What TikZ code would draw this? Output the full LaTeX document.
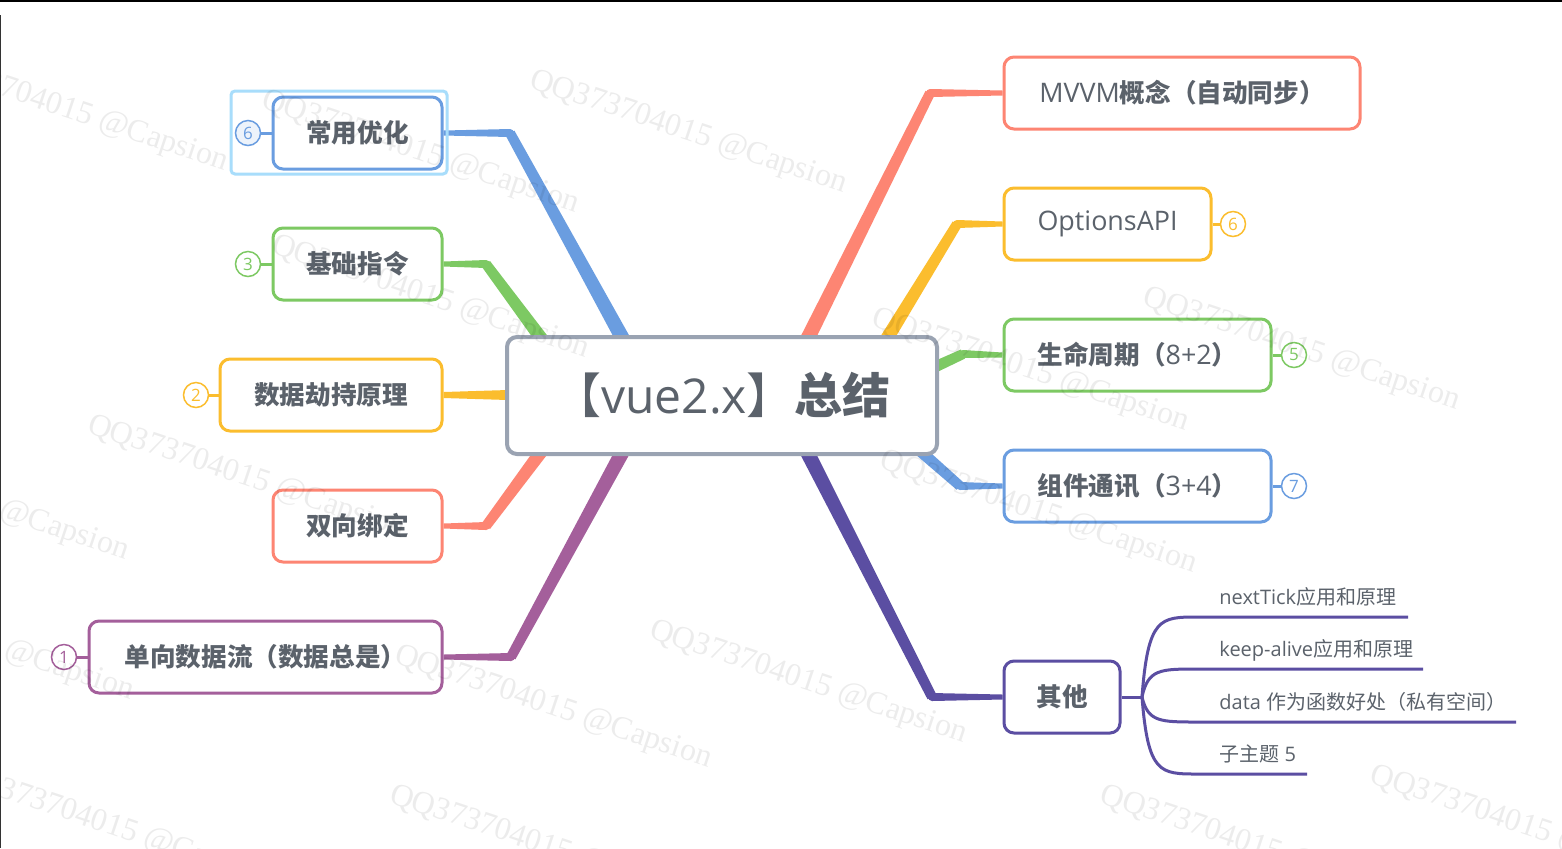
\documentclass[tikz,border=0pt]{standalone}
\usepackage{fontspec}
\setmainfont{Noto Sans CJK SC}
\newfontfamily\os{Open Sans}
\newfontfamily\osl{Open Sans}[Scale=1.05]
\newfontfamily\wmf{Liberation Serif}
\usetikzlibrary{calc}
\definecolor{cblue}{HTML}{6A9DE0}
\definecolor{cgreen}{HTML}{7DC963}
\definecolor{cyellow}{HTML}{FBBD2E}
\definecolor{csalmon}{HTML}{FD8573}
\definecolor{cpurple}{HTML}{A45F9B}
\definecolor{cdpurple}{HTML}{5B4EA2}
\definecolor{cctr}{HTML}{9AA3B2}
\definecolor{ctext}{HTML}{5B626B}
\definecolor{csel}{HTML}{A8DDFB}
\pgfdeclarelayer{back}\pgfdeclarelayer{bg}\pgfdeclarelayer{front}
\pgfsetlayers{back,bg,main,front}
\newcommand{\tseg}[5]{\fill[#5] ($(#1)!#3*0.25pt!90:(#2)$) -- ($(#2)!#4*0.25pt!-90:(#1)$) -- ($(#2)!#4*0.25pt!90:(#1)$) -- ($(#1)!#3*0.25pt!-90:(#2)$) -- cycle;}
\newcommand{\branch}[5]{% root, bend, leaf, color, rootwidth
  \tseg{#1}{#2}{#5}{10}{#4}\fill[#4] (#2) circle (2pt);\tseg{#2}{#3}{8}{5}{#4}}
\begin{document}
\begin{tikzpicture}[x=0.5pt,y=-0.5pt,
  box/.style={draw=#1, line width=1.5pt, rounded corners=5pt, fill=white, inner sep=0pt, text=ctext, minimum height=36pt, font=\fontsize{12.8}{15}\selectfont},
  num/.style={circle, draw=#1, text=#1, line width=0.75pt, fill=white, minimum size=12.5pt, inner sep=0pt, font=\os\fontsize{8.5}{9}\selectfont},
  numlink/.style={draw=#1, line width=1.5pt},
  sub/.style={text=ctext, inner sep=0pt, font=\fontsize{10}{12}\selectfont},
  subline/.style={draw=cdpurple, line width=1.5pt},
  wm/.style={font=\wmf\fontsize{16}{16}\selectfont, text=black, text opacity=0.075, rotate=-18.5, anchor=west, inner sep=0pt}]
\begin{pgfonlayer}{back}
\fill[white] (0,0) rectangle (1562,848);
\end{pgfonlayer}
\useasboundingbox (0,0) rectangle (1562,848);

% central topic
\node[box=cctr, line width=2pt, minimum width=215pt, minimum height=58.5pt, font=\fontsize{24}{28}\selectfont] (ctr) at (722,395.5) {【{\os vue2.x}】\textbf{总结}};

% left topics
\node[box=cblue, minimum width=84.5pt] (opt) at (357.5,133) {\textbf{常用优化}};
\node[box=cgreen, minimum width=84.5pt] (jc) at (357.5,264) {\textbf{基础指令}};
\node[box=cyellow, minimum width=111pt] (sj) at (331,395) {\textbf{数据劫持原理}};
\node[box=csalmon, minimum width=84.5pt] (sx) at (357.5,526) {\textbf{双向绑定}};
\node[box=cpurple, minimum width=176.5pt] (dx) at (265.5,657) {\textbf{单向数据流（数据总是）}};

% right topics
\node[box=csalmon, minimum width=178pt] (mvvm) at (1182,93) {{\osl MVVM}\textbf{概念（自动同步）}};
\node[box=cyellow, minimum width=103.5pt] (oapi) at (1107.5,224) {\osl OptionsAPI};
\node[box=cgreen, minimum width=133.5pt] (smzq) at (1137.5,355) {\textbf{生命周期（}{\osl 8+2}\textbf{）}};
\node[box=cblue, minimum width=133.5pt] (zjtx) at (1137.5,486) {\textbf{组件通讯（}{\osl 3+4}\textbf{）}};
\node[box=cdpurple, minimum width=58pt] (qt) at (1062,697) {\textbf{其他}};

% selection frame
\draw[csel, line width=1.5pt, rounded corners=2pt] (231,91) rectangle (447,174);

% number markers
\node[num=cblue, fill=cblue!12] (n6a) at (248,133) {6};
\node[num=cgreen] (n3) at (248,264) {3};
\node[num=cyellow] (n2) at (196,395) {2};
\node[num=cpurple] (n1) at (64,657) {1};
\node[num=cyellow] (n6b) at (1233,224) {6};
\node[num=cgreen] (n5) at (1294,355) {5};
\node[num=cblue] (n7) at (1294,486) {7};

% sub topics of 其他
\node[sub, anchor=base west] (s1) at (1219,604) {{\os nextTick}应用和原理};
\node[sub, anchor=base west] (s2) at (1219,656) {{\os keep-alive}应用和原理};
\node[sub, anchor=base west] (s3) at (1219,709) {{\os data }作为函数好处（私有空间）};
\node[sub, anchor=base west] (s4) at (1219,761) {子主题{\os\ 5}};

\coordinate (r1) at (636,363); \coordinate (b1) at (510,133);
\coordinate (r2) at (558,361); \coordinate (b2) at (486,264);
\coordinate (r3) at (540,395);
\coordinate (r4) at (558,429); \coordinate (b4) at (486,526);
\coordinate (r5) at (636,427); \coordinate (b5) at (511,657);
\coordinate (r6) at (795,364); \coordinate (b6) at (930,93);
\coordinate (r7) at (872,363); \coordinate (b7) at (957,224);
\coordinate (r8) at (911,378); \coordinate (b8) at (963,354);
\coordinate (r9) at (902,435); \coordinate (b9) at (960,486);
\coordinate (r10) at (794,426); \coordinate (b10) at (932,697);
\coordinate (br) at (1142,697);
\coordinate (l1) at (1198,617); \coordinate (e1) at (1408,617);
\coordinate (l2) at (1198,669); \coordinate (e2) at (1423,669);
\coordinate (l3) at (1198,722); \coordinate (e3) at (1516,722);
\coordinate (l4) at (1198,774); \coordinate (e4) at (1307,774);

\begin{pgfonlayer}{bg}
\branch{r1}{b1}{opt.east}{cblue}{15}
\branch{r2}{b2}{jc.east}{cgreen}{14}
\tseg{r3}{sj.east}{12}{6}{cyellow}
\branch{r4}{b4}{sx.east}{csalmon}{14}
\branch{r5}{b5}{dx.east}{cpurple}{15}
\branch{r6}{b6}{mvvm.west}{csalmon}{15}
\branch{r7}{b7}{oapi.west}{cyellow}{14}
\branch{r8}{b8}{smzq.west}{cgreen}{12}
\branch{r9}{b9}{zjtx.west}{cblue}{12}
\branch{r10}{b10}{qt.west}{cdpurple}{15}
\draw[numlink=cblue] (n6a) -- (opt);
\draw[numlink=cgreen] (n3) -- (jc);
\draw[numlink=cyellow] (n2) -- (sj);
\draw[numlink=cpurple] (n1) -- (dx);
\draw[numlink=cyellow] (n6b) -- (oapi);
\draw[numlink=cgreen] (n5) -- (smzq);
\draw[numlink=cblue] (n7) -- (zjtx);
\draw[subline] (qt.east) -- (br);
\draw[subline] (br) .. controls (1148,617) and (1160,617) .. (l1) -- (e1);
\draw[subline] (br) .. controls (1148,669) and (1160,669) .. (l2) -- (e2);
\draw[subline] (br) .. controls (1148,722) and (1160,722) .. (l3) -- (e3);
\draw[subline] (br) .. controls (1148,774) and (1160,774) .. (l4) -- (e4);
\end{pgfonlayer}

\begin{pgfonlayer}{front}
\node[wm] (w1) at (530,80) {QQ373704015 @Capsion};
\node[wm] (w2) at (262,100) {QQ373704015 @Capsion};
\node[wm] (w3) at (-89,58) {QQ373704015 @Capsion};
\node[wm] (w4) at (272,245) {QQ373704015 @Capsion};
\node[wm] (w5) at (872,318) {QQ373704015 @Capsion};
\node[wm] (w6) at (1143,297) {QQ373704015 @Capsion};
\node[wm] (w7) at (88,425) {QQ373704015 @Capsion};
\node[wm] (w8) at (-188,447) {QQ373704015 @Capsion};
\node[wm] (w9) at (880,460) {QQ373704015 @Capsion};
\node[wm] (w10) at (-183,587) {QQ373704015 @Capsion};
\node[wm] (w11) at (395,655) {QQ373704015 @Capsion};
\node[wm] (w12) at (650,630) {QQ373704015 @Capsion};
\node[wm] (w13) at (390,795) {QQ373704015 @Capsion};
\node[wm] (w14) at (-44,775) {QQ373704015 @Capsion};
\node[wm] (w15) at (1100,795) {QQ373704015 @Capsion};
\node[wm] (w16) at (1370,775) {QQ373704015 @Capsion};
\draw[black, line width=1pt] (0,1) -- (1562,1);
\draw[black!80, line width=0.5pt] (0.5,15) -- (0.5,848);
\end{pgfonlayer}
\end{tikzpicture}
\end{document}
